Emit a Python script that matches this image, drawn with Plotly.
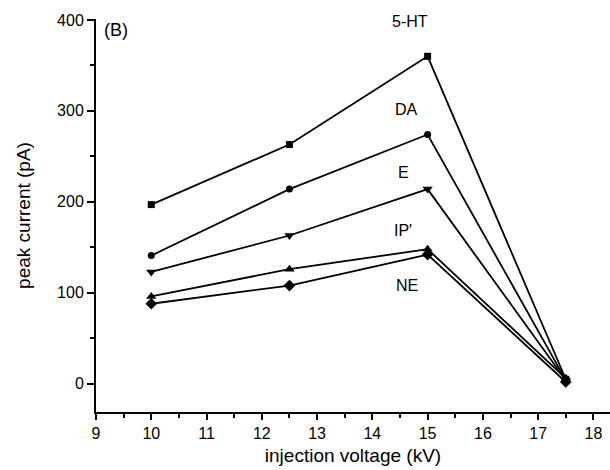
import plotly.graph_objects as go

# injection voltage (kV)
voltage = [10, 12.5, 15, 17.5]

# peak current (pA) for each analyte
ht5 = [197, 263, 360, 5]
da = [141, 214, 274, 4]
epi = [123, 163, 214, 4]
ip = [96, 126, 148, 6]
ne = [88, 108, 142, 2]

series = [
    ("5-HT", ht5, "square", 7),
    ("DA", da, "circle", 7),
    ("E", epi, "triangle-down", 9),
    ("IP'", ip, "triangle-up", 9),
    ("NE", ne, "diamond", 9),
]

# label text and positions in data coordinates
labels = ["5-HT", "DA", "E", "IP'", "NE"]
label_x = [14.69, 14.62, 14.57, 14.55, 14.62]
label_y = [398, 301, 232, 169, 108]

fig = go.Figure()
for name, vals, sym, sz in series:
    fig.add_trace(go.Scatter(
        x=voltage, y=vals, mode="lines+markers", name=name,
        line=dict(color="black", width=1.8),
        marker=dict(symbol=sym, size=sz, color="black"),
        showlegend=False,
    ))

font = "Liberation Sans, Arial, sans-serif"
for t, lx, ly in zip(labels, label_x, label_y):
    fig.add_annotation(x=lx, y=ly, text=t, showarrow=False,
                       font=dict(family=font, size=16, color="black"))
fig.add_annotation(x=9.36, y=389, text="(B)", showarrow=False,
                   font=dict(family=font, size=18, color="black"))

axis_common = dict(
    showline=True, linecolor="black", linewidth=2,
    ticks="outside", tickcolor="black", tickwidth=2,
    showgrid=False, zeroline=False,
    tickfont=dict(family=font, size=16, color="black"),
)

fig.update_xaxes(
    range=[9, 18.3], dtick=1, tick0=9, ticklen=6,
    minor=dict(dtick=0.5, ticks="outside", ticklen=4, tickcolor="black", tickwidth=2),
    title=dict(text="injection voltage (kV)", standoff=7,
               font=dict(family=font, size=19, color="black")),
    **axis_common,
)
fig.update_yaxes(
    range=[-31, 401], dtick=100, tick0=0, ticklen=7,
    minor=dict(dtick=50, ticks="outside", ticklen=4, tickcolor="black", tickwidth=2),
    title=dict(text="peak current (pA)", standoff=21,
               font=dict(family=font, size=19, color="black")),
    **axis_common,
)

fig.update_layout(
    width=610, height=470,
    margin=dict(l=96, r=0, t=19, b=58),
    plot_bgcolor="white", paper_bgcolor="white",
)

fig.write_html("out.html")
